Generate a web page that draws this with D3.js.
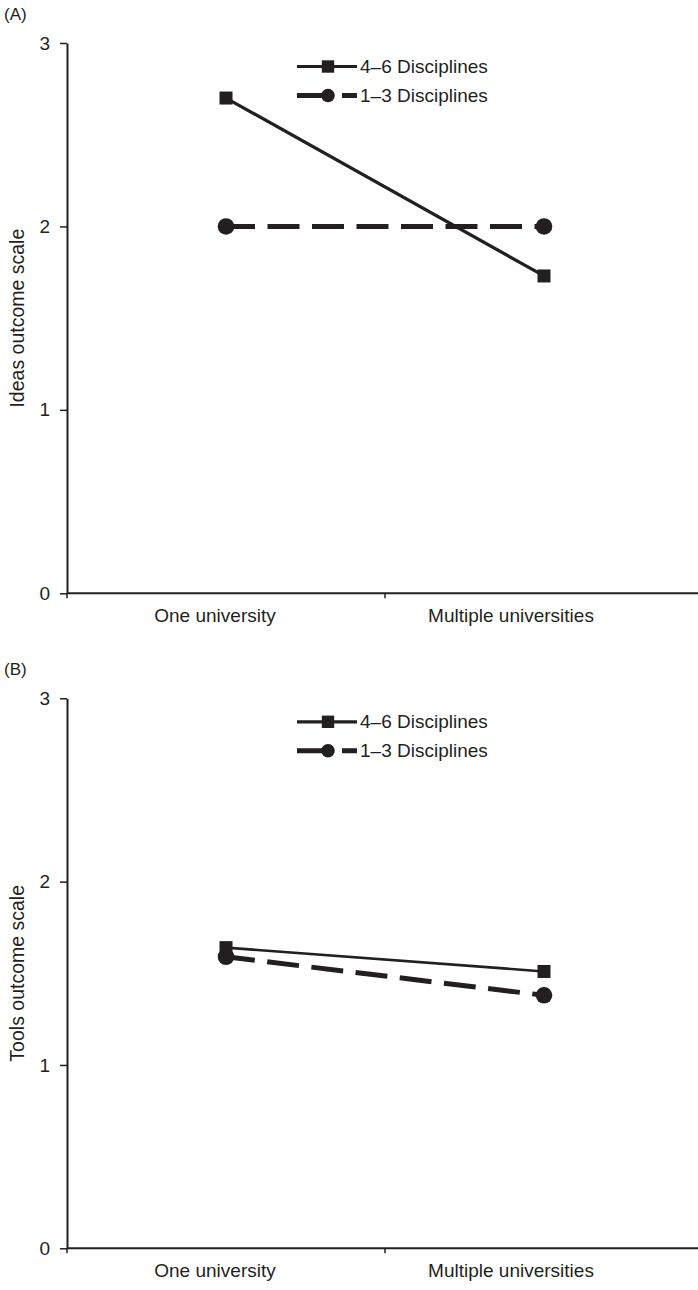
<!DOCTYPE html>
<html>
<head>
<meta charset="utf-8">
<script src="https://cdn.jsdelivr.net/npm/d3@7"></script>
<style>
  body { margin: 0; background: #fff; }
  svg { display: block; font-family: "Liberation Sans", Arial, sans-serif; }
</style>
</head>
<body>
<script>
// categories on the x axis
const categories = ["One university", "Multiple universities"];
// series names (legend)
const seriesNames = ["4–6 Disciplines", "1–3 Disciplines"];
// panel A values
const ideas46 = [2.70, 1.73];
const ideas13 = [2.00, 2.00];
// panel B values
const tools46 = [1.64, 1.51];
const tools13 = [1.59, 1.38];
// y ticks
const yTicks = [0, 1, 2, 3];
const panelLabels = ["(A)", "(B)"];
const yTitles = ["Ideas outcome scale", "Tools outcome scale"];

const w = 698;
const h = 1290;
const ink = "#231f20";

const svg = d3.select("body")
    .append("svg")
    .attr("width", w)
    .attr("height", h);

// x scale shared by both panels
const xScale = d3.scaleBand()
    .domain(categories)
    .range([67, 703])
    .padding(0);
// label positions (labels sit a bit left of the band centres)
const labelX = d3.scalePoint()
    .domain(categories)
    .range([215, 511]);

const panels = [
    { top: 43, bottom: 593.3, s46: ideas46, s13: ideas13, solidW: 3.2 },
    { top: 698.3, bottom: 1248.3, s46: tools46, s13: tools13, solidW: 2.6 }
];

panels.forEach(function (p, i) {
    const yScale = d3.scaleLinear()
        .domain([0, 3])
        .range([p.bottom, p.top]);

    const g = svg.append("g");

    // panel label
    g.append("text")
        .text(panelLabels[i])
        .attr("x", 4)
        .attr("y", p.top - 23)
        .attr("font-size", 17)
        .attr("fill", ink);

    // y axis
    const yAxis = d3.axisLeft(yScale)
        .tickValues(yTicks)
        .tickFormat(d3.format("d"))
        .tickSize(7)
        .tickPadding(10)
        .tickSizeOuter(0);
    const yAxisG = g.append("g")
        .attr("transform", `translate(${xScale.range()[0]},0)`)
        .call(yAxis);
    yAxisG.select(".domain").attr("stroke", ink).attr("stroke-width", 2);
    yAxisG.selectAll(".tick line").attr("stroke", ink).attr("stroke-width", 1.5);
    yAxisG.selectAll(".tick text")
        .attr("font-size", 19)
        .attr("font-family", "Liberation Sans, Arial, sans-serif")
        .attr("fill", ink);

    // y axis title
    g.append("text")
        .text(yTitles[i])
        .attr("transform", `translate(23.5,${(p.top + p.bottom) / 2}) rotate(-90)`)
        .attr("text-anchor", "middle")
        .attr("font-size", 19.5)
        .attr("fill", ink);

    // x axis line
    g.append("line")
        .attr("x1", xScale.range()[0])
        .attr("x2", w)
        .attr("y1", p.bottom)
        .attr("y2", p.bottom)
        .attr("stroke", ink)
        .attr("stroke-width", 2);
    // x ticks at category boundaries
    g.selectAll(".xtick")
        .data(categories)
        .enter()
        .append("line")
        .attr("class", "xtick")
        .attr("x1", d => xScale(d))
        .attr("x2", d => xScale(d))
        .attr("y1", p.bottom)
        .attr("y2", p.bottom + 5)
        .attr("stroke", ink)
        .attr("stroke-width", 1.5);
    // x labels
    g.selectAll(".xlabel")
        .data(categories)
        .enter()
        .append("text")
        .attr("class", "xlabel")
        .text(d => d)
        .attr("x", d => labelX(d))
        .attr("y", p.bottom + 29)
        .attr("text-anchor", "middle")
        .attr("font-size", 19)
        .attr("fill", ink);

    const cx = d => xScale(d) + xScale.bandwidth() / 2;
    const line = d3.line()
        .x(d => cx(d.cat))
        .y(d => yScale(d.v));

    const data46 = categories.map((c, j) => ({ cat: c, v: p.s46[j] }));
    const data13 = categories.map((c, j) => ({ cat: c, v: p.s13[j] }));

    // 1-3 dashed line
    g.append("path")
        .datum(data13)
        .attr("d", line)
        .attr("fill", "none")
        .attr("stroke", ink)
        .attr("stroke-width", 5)
        .attr("stroke-dasharray", "32,12.5")
        .attr("stroke-dashoffset", 3);
    // 4-6 solid line
    g.append("path")
        .datum(data46)
        .attr("d", line)
        .attr("fill", "none")
        .attr("stroke", ink)
        .attr("stroke-width", p.solidW);

    // circles for 1-3
    g.selectAll(".c13")
        .data(data13)
        .enter()
        .append("circle")
        .attr("class", "c13")
        .attr("cx", d => cx(d.cat))
        .attr("cy", d => yScale(d.v))
        .attr("r", 8.3)
        .attr("fill", ink);
    // squares for 4-6
    g.selectAll(".s46")
        .data(data46)
        .enter()
        .append("rect")
        .attr("class", "s46")
        .attr("x", d => cx(d.cat) - 6.5)
        .attr("y", d => yScale(d.v) - 6.5)
        .attr("width", 13)
        .attr("height", 13)
        .attr("fill", ink);

    // legend
    const lx0 = 297, lx1 = 357, ly = p.top + 23.5, gap = 29;
    const mid = (lx0 + lx1) / 2 + 1;
    // 4-6 row
    g.append("line")
        .attr("x1", lx0).attr("x2", lx1)
        .attr("y1", ly).attr("y2", ly)
        .attr("stroke", ink)
        .attr("stroke-width", 3.2);
    g.append("rect")
        .attr("x", mid - 6.2).attr("y", ly - 6.2)
        .attr("width", 12.4).attr("height", 12.4)
        .attr("fill", ink);
    g.append("text")
        .text(seriesNames[0])
        .attr("x", lx1 + 3)
        .attr("y", ly)
        .attr("dy", "0.35em")
        .attr("font-size", 19)
        .attr("fill", ink);
    // 1-3 row
    g.append("line")
        .attr("x1", lx0).attr("x2", lx1)
        .attr("y1", ly + gap).attr("y2", ly + gap)
        .attr("stroke", ink)
        .attr("stroke-width", 5)
        .attr("stroke-dasharray", "36,9");
    g.append("circle")
        .attr("cx", mid).attr("cy", ly + gap)
        .attr("r", 6.8)
        .attr("fill", ink);
    g.append("text")
        .text(seriesNames[1])
        .attr("x", lx1 + 3)
        .attr("y", ly + gap)
        .attr("dy", "0.35em")
        .attr("font-size", 19)
        .attr("fill", ink);
});
</script>
</body>
</html>
